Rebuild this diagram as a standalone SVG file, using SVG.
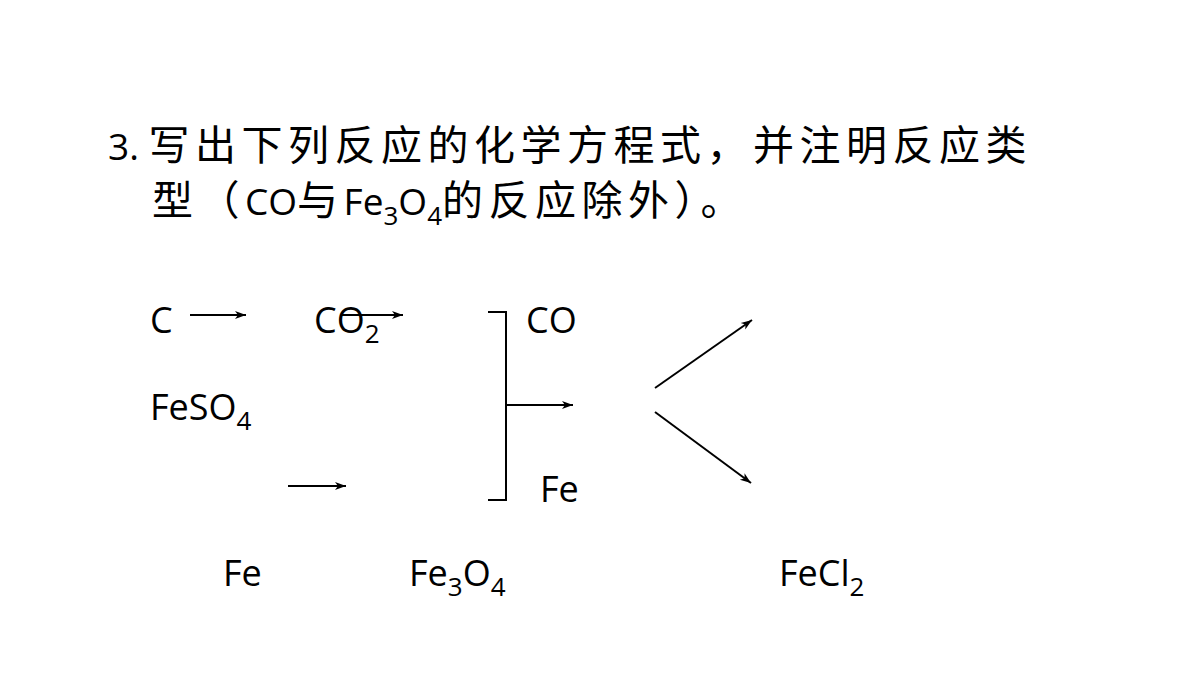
<svg xmlns="http://www.w3.org/2000/svg" width="1200" height="675" viewBox="0 0 1200 675">
<style>
text{font-family:"Open Sans","Liberation Sans","Noto Sans CJK SC",sans-serif;fill:#000}
.t{font-size:41px;letter-spacing:5.5px}
.tl{font-size:37px;letter-spacing:0}
.c{font-size:36px}
.s{font-size:26px}
.t .s{letter-spacing:0}
.ln{stroke:#000;stroke-width:2;fill:none}
</style>
<defs><marker id="a" markerWidth="12" markerHeight="10" refX="11" refY="5" orient="auto" markerUnits="userSpaceOnUse"><path d="M0,1 L11,5 L0,9 L3,5 Z" fill="#000"/></marker></defs>
<rect width="1200" height="675" fill="#fff"/>
<g id="title">
<text class="t" x="108" y="160"><tspan class="tl">3. </tspan>写出下列反应的化学方程式，并注明反应类</text>
<text class="t" x="152" y="215">型（<tspan class="tl">CO</tspan>与<tspan class="tl">Fe</tspan><tspan class="s" dy="10">3</tspan><tspan class="tl" dy="-10">O</tspan><tspan class="s" dy="10">4</tspan><tspan dy="-10">的反应除外）。</tspan></text>
</g>
<g id="C"><text class="c" x="150" y="333">C</text></g>
<g id="CO2"><text class="c" x="314" y="333">CO<tspan class="s" dy="10">2</tspan></text></g>
<g id="CO"><text class="c" x="526" y="333">CO</text></g>
<g id="FeSO4"><text class="c" x="150" y="420">FeSO<tspan class="s" dy="10">4</tspan></text></g>
<g id="Fe_r"><text class="c" x="540" y="502">Fe</text></g>
<g id="Fe"><text class="c" x="223" y="586">Fe</text></g>
<g id="Fe3O4"><text class="c" x="409" y="586">Fe<tspan class="s" dy="10">3</tspan><tspan dy="-10">O</tspan><tspan class="s" dy="10">4</tspan></text></g>
<g id="FeCl2"><text class="c" x="779" y="586">FeCl<tspan class="s" dy="10">2</tspan></text></g>
<g id="connectors">
<line class="ln" x1="190" y1="315" x2="246" y2="315" marker-end="url(#a)"/>
<line class="ln" x1="342" y1="315" x2="403" y2="315" marker-end="url(#a)"/>
<line class="ln" x1="288" y1="486" x2="346" y2="486" marker-end="url(#a)"/>
<path class="ln" d="M488,312 H506 V500 H488"/>
<line class="ln" x1="506" y1="405" x2="573" y2="405" marker-end="url(#a)"/>
<line class="ln" x1="655" y1="388" x2="752" y2="320" marker-end="url(#a)"/>
<line class="ln" x1="655" y1="412" x2="751" y2="483" marker-end="url(#a)"/>
</g>
</svg>
